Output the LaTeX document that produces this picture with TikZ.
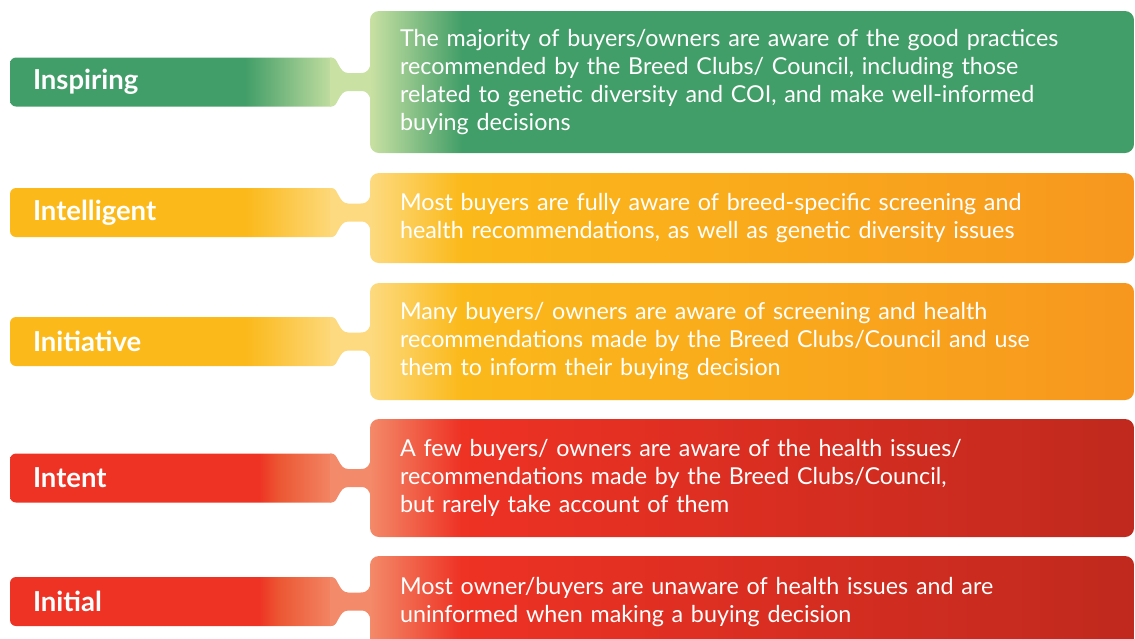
\documentclass[tikz,border=0pt]{standalone}
\usepackage{fontspec}
\setmainfont{Lato}
\usetikzlibrary{calc}
\definecolor{levgreen}{RGB}{66,158,104}
\definecolor{levgreenlt}{RGB}{201,225,163}
\definecolor{levyellow}{RGB}{251,185,26}
\definecolor{levyellowlt}{RGB}{253,218,128}
\definecolor{levorange}{RGB}{247,151,30}
\definecolor{levred}{RGB}{238,50,36}
\definecolor{levredmid}{RGB}{236,86,50}
\definecolor{levredlt}{RGB}{243,138,105}
\definecolor{levreddk}{RGB}{192,41,30}
% tab shadings: solid, then fading out to the light colour at the right end
\pgfdeclarehorizontalshading{tabgreen}{100bp}{color(0bp)=(levgreen); color(25bp)=(levgreen); color(61bp)=(levgreen); color(75bp)=(levgreenlt); color(100bp)=(levgreenlt)}
\pgfdeclarehorizontalshading{tabyellow}{100bp}{color(0bp)=(levyellow); color(25bp)=(levyellow); color(61bp)=(levyellow); color(75bp)=(levyellowlt); color(100bp)=(levyellowlt)}
\pgfdeclarehorizontalshading{tabred}{100bp}{color(0bp)=(levred); color(25bp)=(levred); color(63bp)=(levred); color(66bp)=(levredmid); color(75bp)=(levredlt); color(100bp)=(levredlt)}
% box shadings: light at the left edge
\pgfdeclarehorizontalshading{boxgreen}{100bp}{color(0bp)=(levgreenlt); color(25bp)=(levgreenlt); color(31bp)=(levgreen); color(75bp)=(levgreen); color(100bp)=(levgreen)}
\pgfdeclarehorizontalshading{boxyellow}{100bp}{color(0bp)=(levyellowlt); color(25bp)=(levyellowlt); color(31bp)=(levyellow); color(75bp)=(levorange); color(100bp)=(levorange)}
\pgfdeclarehorizontalshading{boxred}{100bp}{color(0bp)=(levredlt); color(25bp)=(levredlt); color(31bp)=(levred); color(75bp)=(levreddk); color(100bp)=(levreddk)}
\tikzstyle{tabbox}=[rectangle,rounded corners=6pt,minimum height=49pt,inner xsep=23pt,inner ysep=0pt,text width=281pt,align=left,text=white,font=\fontsize{27.5}{30}\selectfont\bfseries]
\tikzstyle{infobox}=[rectangle,rounded corners=9pt,inner xsep=30pt,inner ysep=0pt,text width=704pt,align=left,text=white,font=\fontsize{23.3}{28}\selectfont]
% neck joining a tab (#1) to its box (#2)
\newcommand{\neck}[3]{%
  \fill[#3] let \p1=(#1.east), \p2=(#2.west) in
    (\x1-7pt,\y1+24.5pt) .. controls (\x1+2pt,\y1+24.5pt) and (\x1+1pt,\y1+9pt) .. (\x1+11pt,\y1+9pt)
    -- (\x2-9pt,\y1+9pt) .. controls (\x2-2pt,\y1+9pt) and (\x2,\y1+13pt) .. (\x2+1pt,\y1+20pt)
    -- (\x2+1pt,\y1-20pt) .. controls (\x2,\y1-13pt) and (\x2-2pt,\y1-9pt) .. (\x2-9pt,\y1-9pt)
    -- (\x1+11pt,\y1-9pt) .. controls (\x1+1pt,\y1-9pt) and (\x1+2pt,\y1-24.5pt) .. (\x1-7pt,\y1-24.5pt) -- cycle;}

\begin{document}
\begin{tikzpicture}[x=1pt,y=-1pt]
  \useasboundingbox (0,0) rectangle (1135,638);

  \node[tabbox,shading=tabgreen] (inspiring) at (173.5,82) {Inspiring};
  \node[infobox,shading=boxgreen,minimum height=142pt] (inspiringtxt) at (752,82)
    {The majority of buyers/owners are aware of the good practices\\
     recommended by the Breed Clubs/ Council, including those\\
     related to genetic diversity and COI, and make well-informed\\
     buying decisions};
  \neck{inspiring}{inspiringtxt}{levgreenlt}

  \node[tabbox,shading=tabyellow] (intelligent) at (173.5,212.5) {Intelligent};
  \node[infobox,shading=boxyellow,minimum height=90pt] (intelligenttxt) at (752,218)
    {Most buyers are fully aware of breed-specific screening and\\
     health recommendations, as well as genetic diversity issues};
  \neck{intelligent}{intelligenttxt}{levyellowlt}

  \node[tabbox,shading=tabyellow] (initiative) at (173.5,341.5) {Initiative};
  \node[infobox,shading=boxyellow,minimum height=117pt] (initiativetxt) at (752,341.5)
    {Many buyers/ owners are aware of screening and health\\
     recommendations made by the Breed Clubs/Council and use\\
     them to inform their buying decision};
  \neck{initiative}{initiativetxt}{levyellowlt}

  \node[tabbox,shading=tabred] (intent) at (173.5,478) {Intent};
  \node[infobox,shading=boxred,minimum height=118pt] (intenttxt) at (752,478)
    {A few buyers/ owners are aware of the health issues/\\
     recommendations made by the Breed Clubs/Council,\\
     but rarely take account of them};
  \neck{intent}{intenttxt}{levredlt}

  \node[tabbox,shading=tabred] (initial) at (173.5,601.5) {Initial};
  \node[infobox,shading=boxred,minimum height=92pt] (initialtxt) at (752,602)
    {Most owner/buyers are unaware of health issues and are\\
     uninformed when making a buying decision};
  \neck{initial}{initialtxt}{levredlt}
\end{tikzpicture}
\end{document}
